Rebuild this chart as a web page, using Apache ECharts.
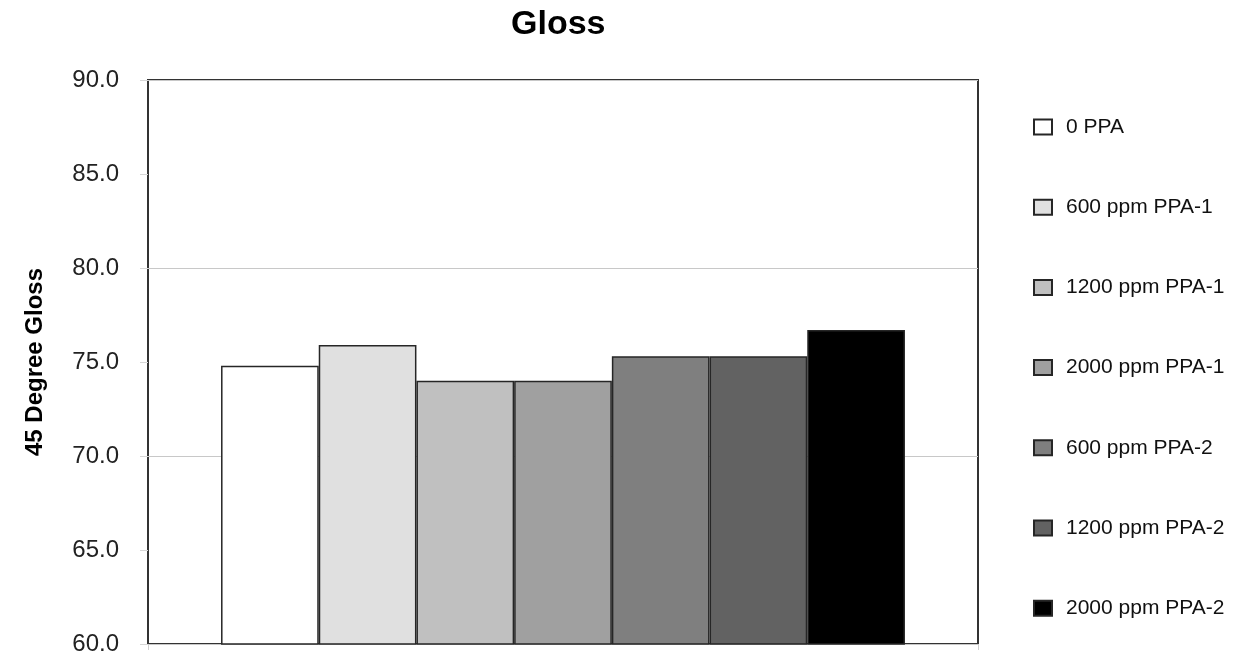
<!DOCTYPE html>
<html>
<head>
<meta charset="utf-8">
<title>Gloss</title>
<script src="https://cdn.jsdelivr.net/npm/echarts@6/dist/echarts.min.js"></script>
<style>
  html, body { margin: 0; padding: 0; background: #ffffff; }
  #chart { width: 1240px; height: 659px; }
</style>
</head>
<body>
<div id="chart"></div>
<script>
// Sample groups and their 45-degree gloss readings
const groups = ['0 PPA', '600 ppm PPA-1', '1200 ppm PPA-1', '2000 ppm PPA-1', '600 ppm PPA-2', '1200 ppm PPA-2', '2000 ppm PPA-2'];
const glossValues = [74.8, 75.9, 74.0, 74.0, 75.3, 75.3, 76.7];
const barFills = ['#ffffff', '#e0e0e0', '#c0c0c0', '#a0a0a0', '#7f7f7f', '#626262', '#000000'];
const yMin = 60, yMax = 90;

const FONT = '"Liberation Sans", Arial, Helvetica, sans-serif';

const series = groups.map((name, i) => ({
  name: name,
  type: 'bar',
  yAxisIndex: 0,
  data: [glossValues[i]],
  barGap: '0%',
  barCategoryGap: '17.6%',
  itemStyle: { color: barFills[i], borderColor: '#262626', borderWidth: 1.5 },
  emphasis: { disabled: true }
}));

const chart = echarts.init(document.getElementById('chart'), null, { renderer: 'canvas' });
chart.setOption({
  animation: false,
  backgroundColor: '#ffffff',
  title: {
    text: 'Gloss',
    left: 511,
    top: 8,
    padding: 0,
    textStyle: { fontFamily: FONT, fontWeight: 'bold', fontSize: 34, color: '#000' }
  },
  legend: {
    orient: 'vertical',
    left: 1033,
    top: 116.5,
    padding: 0,
    itemGap: 59.2,
    itemWidth: 18,
    itemHeight: 15,
    icon: 'rect',
    selectedMode: false,
    textStyle: { fontFamily: FONT, fontSize: 21, color: '#111', padding: [0, 0, 0, 9] },
    data: groups
  },
  grid: {
    left: 148,
    top: 80,
    width: 830,
    height: 564,
    show: true,
    borderColor: '#333',
    borderWidth: 2,
    backgroundColor: 'transparent'
  },
  xAxis: {
    type: 'category',
    data: [''],
    axisLine: { show: false },
    axisTick: { show: true, length: 6, lineStyle: { color: '#d0d0d0' } },
    axisLabel: { show: false },
    splitLine: { show: false }
  },
  yAxis: [
    {
      type: 'value',
      min: yMin,
      max: yMax,
      interval: 5,
      name: '45 Degree Gloss',
      nameLocation: 'middle',
      nameGap: 101,
      nameTextStyle: { fontFamily: FONT, fontWeight: 'bold', fontSize: 24, color: '#000' },
      axisLine: { show: false },
      axisTick: { show: true, length: 8, lineStyle: { color: '#d6d6d6' } },
      axisLabel: {
        margin: 29,
        fontFamily: FONT,
        fontSize: 24,
        color: '#222',
        formatter: v => v.toFixed(1)
      },
      splitLine: { show: false }
    },
    {
      // major gridlines every 10 units
      type: 'value',
      min: yMin,
      max: yMax,
      interval: 10,
      position: 'right',
      axisLine: { show: false },
      axisTick: { show: false },
      axisLabel: { show: false },
      splitLine: { show: true, lineStyle: { color: '#c8c8c8', width: 1 } }
    }
  ],
  series: series
});
</script>
</body>
</html>
